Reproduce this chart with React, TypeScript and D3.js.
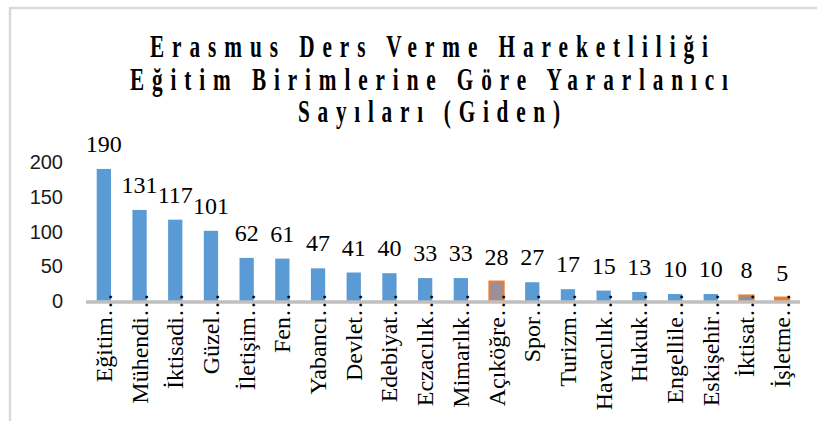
import React from "react";
import * as d3 from "d3";

const categories = [
  "Eğitim…", "Mühendi…", "İktisadi…", "Güzel…", "İletişim…", "Fen…", "Yabancı…",
  "Devlet…", "Edebiyat…", "Eczacılık…", "Mimarlık…", "Açıköğre…", "Spor…",
  "Turizm…", "Havacılık…", "Hukuk…", "Engellile…", "Eskişehir…", "İktisat…", "İşletme…",
];
const values = [190, 131, 117, 101, 62, 61, 47, 41, 40, 33, 33, 28, 27, 17, 15, 13, 10, 10, 8, 5];
const yTicks = [0, 50, 100, 150, 200];
const titleLines = [
  "Erasmus Ders Verme Hareketliliği",
  "Eğitim Birimlerine Göre Yararlanıcı",
  "Sayıları (Giden)",
];
const highlighted = ["Açıköğre…", "İktisat…", "İşletme…"];

const W = 817;
const H = 421;
const SERIF = "Liberation Serif, Times New Roman, DejaVu Serif, serif";
const SANS = "Liberation Sans, Arial, sans-serif";

export default function App() {
  const x = d3.scaleBand<string>().domain(categories).range([86, 800]).paddingInner(0.6).paddingOuter(0.3);
  const y = d3.scaleLinear().domain([0, 200]).range([301, 162]);
  const titleY = [57, 90, 122];
  const titleLen = [558, 598, 262];
  const sx = 0.85;
  const fillFor = (c: string) => {
    if (c === "Açıköğre…") return "#9a8f9a";
    if (c === "İktisat…") return "#7f93b0";
    if (c === "İşletme…") return "#ED7D31";
    return "#5B9BD5";
  };
  return (
    <svg width={W} height={H} style={{ position: "absolute", left: 0, top: 0 }}>
      <rect x={0} y={0} width={W} height={H} fill="#fff" />
      <rect x={10} y={8} width={W + 20} height={H + 20} fill="#fff" stroke="#d9d9d9" strokeWidth={2.5} />
      {titleLines.map((t, i) => (
        <g key={t} transform={`translate(429,${titleY[i]}) scale(${sx},1.25)`}>
          <text
            x={0}
            y={0}
            textAnchor="middle"
            style={{ fontFamily: SERIF, fontWeight: 700, fontSize: "25px" }}
            textLength={titleLen[i] / sx}
            lengthAdjust="spacing"
            fill="#000"
          >
            {t}
          </text>
        </g>
      ))}
      {yTicks.map((t) => (
        <text
          key={t}
          x={63}
          y={y(t)}
          dy="0.36em"
          textAnchor="end"
          style={{ fontFamily: SANS, fontSize: "20px" }}
          fill="#1a1a1a"
        >
          {t}
        </text>
      ))}
      {categories.map((c, i) => {
        const hl = highlighted.includes(c);
        return (
          <rect
            key={c}
            x={x(c)!}
            y={y(values[i])}
            width={x.bandwidth()}
            height={y(0) - y(values[i])}
            fill={fillFor(c)}
            stroke={hl ? "#ED7D31" : "none"}
            strokeWidth={hl ? 2 : 0}
          />
        );
      })}
      <line x1={86} x2={800} y1={y(0) + 1} y2={y(0) + 1} stroke="#bfbfbf" strokeWidth={3.5} />
      {categories.map((c, i) => {
        const cx = x(c)! + x.bandwidth() / 2;
        return (
          <text
            key={"v" + c}
            x={cx}
            y={y(values[i]) - 17}
            textAnchor="middle"
            style={{ fontFamily: SERIF, fontSize: "24px" }}
            fill="#000"
          >
            {values[i]}
          </text>
        );
      })}
      {categories.map((c) => {
        const cx = x(c)! + x.bandwidth() / 2;
        return (
          <text
            key={"l" + c}
            transform={`translate(${cx + 8},293) rotate(-90)`}
            textAnchor="end"
            style={{ fontFamily: SERIF, fontSize: "24px" }}
            fill="#000"
          >
            {c}
          </text>
        );
      })}
    </svg>
  );
}
